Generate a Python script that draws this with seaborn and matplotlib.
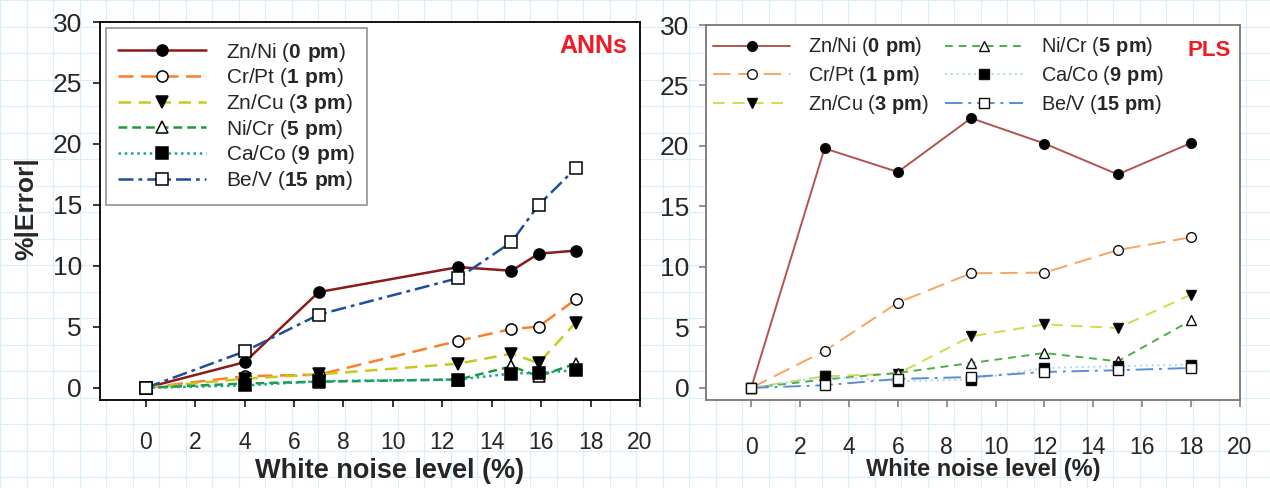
import matplotlib
matplotlib.use('Agg')
import matplotlib.pyplot as plt
import seaborn as sns
from matplotlib.ticker import MultipleLocator

sns.set_style('ticks')
plt.rcParams['font.family'] = ['Liberation Sans', 'DejaVu Sans']
plt.rcParams['mathtext.fontset'] = 'custom'
plt.rcParams['mathtext.rm'] = 'Liberation Sans'
plt.rcParams['mathtext.bf'] = 'Liberation Sans:bold'

# ---------------- data ----------------
series_names = ['Zn/Ni', 'Cr/Pt', 'Zn/Cu', 'Ni/Cr', 'Ca/Co', 'Be/V']
series_pm = ['0 pm', '1 pm', '3 pm', '5 pm', '9 pm', '15 pm']

ann_noise = [0, 4, 7, 12.65, 14.8, 15.9, 17.4]
ann_zn_ni = [0, 2.1, 7.85, 9.9, 9.6, 11.0, 11.25]
ann_cr_pt = [0, 0.95, 1.08, 3.85, 4.82, 5.02, 7.25]
ann_zn_cu = [0, 0.75, 1.1, 1.98, 2.8, 2.03, 5.35]
ann_ni_cr = [0, 0.35, 0.5, 0.68, 1.76, 0.95, 1.98]
ann_ca_co = [0, 0.19, 0.54, 0.68, 1.17, 1.22, 1.44]
ann_be_v = [0, 2.98, 6.0, 9.0, 11.95, 15.0, 18.0]

pls_noise = [0, 3, 6, 9, 12, 15, 18]
pls_zn_ni = [0, 19.8, 17.85, 22.3, 20.2, 17.65, 20.25]
pls_cr_pt = [0, 3.05, 7.05, 9.48, 9.53, 11.4, 12.45]
pls_zn_cu = [0, 0.96, 1.18, 4.26, 5.25, 4.95, 7.72]
pls_ni_cr = [0, 0.7, 1.24, 2.06, 2.88, 2.2, 5.58]
pls_ca_co = [0, 0.96, 0.55, 0.69, 1.65, 1.8, 1.92]
pls_be_v = [0, 0.22, 0.74, 0.9, 1.32, 1.46, 1.65]

x_ticks = list(range(0, 21, 2))
y_ticks = list(range(0, 31, 5))

ann_values = [ann_zn_ni, ann_cr_pt, ann_zn_cu, ann_ni_cr, ann_ca_co, ann_be_v]
pls_values = [pls_zn_ni, pls_cr_pt, pls_zn_cu, pls_ni_cr, pls_ca_co, pls_be_v]

# ---------------- styles ----------------
markers = ['o', 'o', 'v', '^', 's', 's']
faces = ['black', 'white', 'black', 'white', 'black', 'white']
ann_colors = ['#8B1A1A', '#FF7F27', '#C8C81E', '#1E9A3A', '#1AA0A0', '#1F4E9A']
ann_styles = ['-', (0, (6, 3)), (0, (5, 3)), (0, (3.5, 2)), (0, (1, 1.5)), (0, (6, 2, 1.5, 2))]
pls_colors = ['#B5524F', '#F9A560', '#D8D84C', '#4DAF4A', '#A9D8E8', '#5B8ED0']
pls_styles = ['-', (0, (9, 4)), (0, (6, 4)), (0, (4, 3)), (0, (1, 2)), (0, (9, 3, 1.5, 3))]

labels = [f'{n} ($\\mathbf{{{p.replace(" ", chr(92) + " ")}}}$)' for n, p in zip(series_names, series_pm)]

fig = plt.figure(figsize=(12.7, 4.88), dpi=100)

# grid-paper background
bg = fig.add_axes([0, 0, 1, 1], zorder=-5)
bg.set_xlim(0, 1270)
bg.set_ylim(488, 0)
bg.xaxis.set_major_locator(MultipleLocator(26.5))
bg.yaxis.set_major_locator(MultipleLocator(26.5))
bg.grid(True, color='#DCEEF7', lw=0.9)
bg.tick_params(length=0, labelbottom=False, labelleft=False)
for s in bg.spines.values():
    s.set_visible(False)

axL = fig.add_axes([100 / 1270, 1 - 400 / 488, 540 / 1270, 378 / 488])
axR = fig.add_axes([706 / 1270, 1 - 400 / 488, 534 / 1270, 375 / 488])

for i in range(6):
    sns.lineplot(x=ann_noise, y=ann_values[i], ax=axL, color=ann_colors[i],
                 linestyle=ann_styles[i], lw=1.8, marker=markers[i], ms=8,
                 mfc=faces[i], mec='black', mew=1.1, label=labels[i], zorder=3 + i)
    sns.lineplot(x=pls_noise, y=pls_values[i], ax=axR, color=pls_colors[i],
                 linestyle=pls_styles[i], lw=1.4, marker=markers[i], ms=7,
                 mfc=faces[i], mec='#111111', mew=1.0, label=labels[i], zorder=3 + i)

for ax, spc, in [(axL, 'black'), (axR, '#777777')]:
    ax.set_facecolor('white')
    ax.set_xlim(-1.85, 20)
    ax.set_ylim(-1, 30)
    ax.set_xticks(x_ticks)
    ax.set_yticks(y_ticks)
    for s in ax.spines.values():
        s.set_color(spc)
        s.set_linewidth(1.3)
    ax.tick_params(axis='both', direction='out', length=5, width=1.1, color=spc)

axL.tick_params(axis='x', labelsize=16.5, pad=17)
axL.tick_params(axis='y', labelsize=19, pad=8)
axR.tick_params(axis='x', labelsize=16.5, pad=21)
axR.tick_params(axis='y', labelsize=19, pad=7)

axL.set_xlabel('White noise level (%)', fontsize=19.5, fontweight='bold')
axL.xaxis.set_label_coords(0.537, -0.153)
axL.set_ylabel('%|Error|', fontsize=19, fontweight='bold')
axL.yaxis.set_label_coords(-0.115, 0.505)
axR.set_xlabel('White noise level (%)', fontsize=17, fontweight='bold')
axR.xaxis.set_label_coords(0.519, -0.155)
axR.set_ylabel('')

legL = axL.legend(loc='upper left', bbox_to_anchor=(0.011, 0.984), borderaxespad=0,
                  fontsize=15, handlelength=4.2, handletextpad=0.95, labelspacing=0.13,
                  borderpad=0.6, frameon=True, fancybox=False, edgecolor='#808080')
legL.get_frame().set_linewidth(1.3)

legR = axR.legend(loc='upper left', bbox_to_anchor=(0.013, 0.972), borderaxespad=0,
                  ncol=2, fontsize=14.3, handlelength=3.9, handletextpad=0.9,
                  labelspacing=0.28, columnspacing=0.8, borderpad=0, frameon=False)

axL.text(0.976, 0.937, 'ANNs', transform=axL.transAxes, ha='right', va='center',
         fontsize=18, fontweight='bold', color='#EE1C24')
axR.text(0.983, 0.933, 'PLS', transform=axR.transAxes, ha='right', va='center',
         fontsize=16, fontweight='bold', color='#EE1C24')

fig.savefig('out.png', dpi=100)
